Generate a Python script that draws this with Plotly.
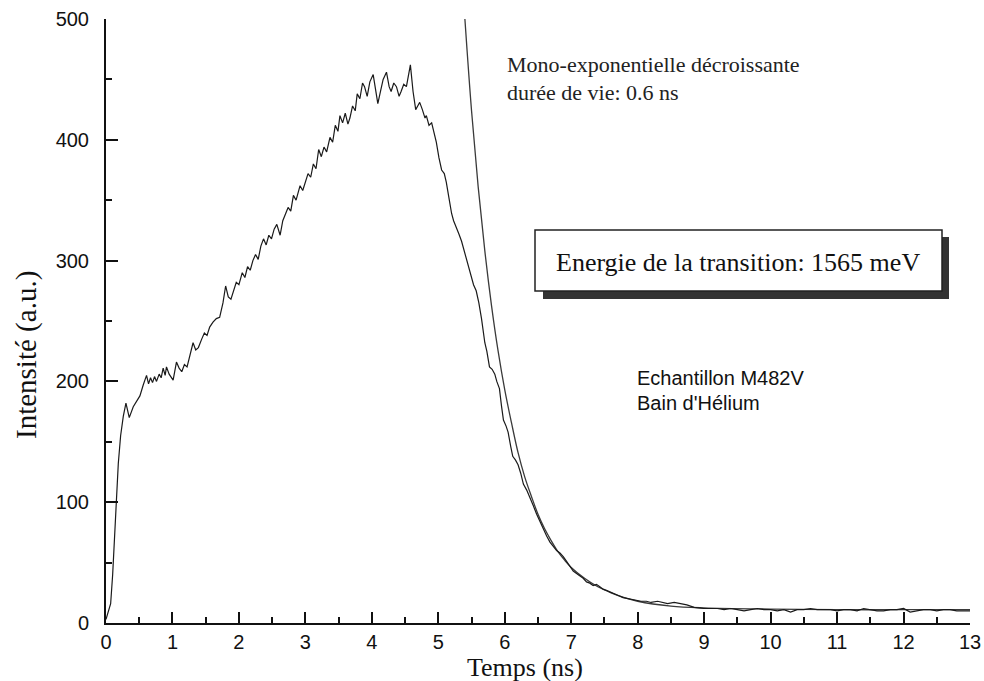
import plotly.graph_objects as go

t_data = [0.00, 0.03, 0.07, 0.10, 0.135, 0.16, 0.185, 0.22, 0.26, 0.30, 0.35, 0.41, 0.46, 0.51, 0.56, 0.61,
          0.64, 0.67, 0.70, 0.73, 0.76, 0.80, 0.83, 0.86, 0.89, 0.91, 0.95, 1.01, 1.06, 1.10, 1.14, 1.18,
          1.22, 1.26, 1.31, 1.35, 1.39, 1.44, 1.48, 1.52, 1.56, 1.61, 1.66, 1.71, 1.76, 1.80, 1.84, 1.88,
          1.92, 1.96, 2.00, 2.05, 2.09, 2.13, 2.17, 2.21, 2.25, 2.29, 2.33, 2.37, 2.41, 2.45, 2.49, 2.53,
          2.57, 2.62, 2.66, 2.70, 2.74, 2.78, 2.82, 2.86, 2.92, 2.96, 3.00, 3.04, 3.08, 3.12, 3.16, 3.20,
          3.24, 3.28, 3.32, 3.37, 3.41, 3.45, 3.49, 3.52, 3.56, 3.60, 3.64, 3.67, 3.71, 3.75, 3.78, 3.82,
          3.86, 3.89, 3.93, 3.97, 4.02, 4.06, 4.09, 4.13, 4.17, 4.22, 4.26, 4.29, 4.33, 4.37, 4.41, 4.44,
          4.48, 4.52, 4.55, 4.58, 4.62, 4.66, 4.69, 4.72, 4.76, 4.80, 4.82, 4.86, 4.90, 4.94, 4.97, 5.01,
          5.05, 5.09, 5.12, 5.16, 5.20, 5.23, 5.27, 5.31, 5.35, 5.38, 5.42, 5.46, 5.50, 5.53, 5.57, 5.61,
          5.65, 5.70, 5.73, 5.77, 5.81, 5.85, 5.88, 5.92, 5.95, 5.98, 6.02, 6.05, 6.09, 6.12, 6.16, 6.20,
          6.24, 6.28, 6.33, 6.38, 6.43, 6.48, 6.53, 6.58, 6.63, 6.68, 6.73, 6.78, 6.83, 6.88, 6.93, 6.98,
          7.03, 7.08, 7.13, 7.18, 7.23, 7.28, 7.33, 7.38, 7.43, 7.48, 7.53, 7.58, 7.63, 7.70, 7.78, 7.88,
          7.95, 8.05, 8.13, 8.20, 8.30, 8.39, 8.45, 8.55, 8.65, 8.74, 8.85, 8.99, 9.1, 9.2, 9.3, 9.4,
          9.5, 9.6, 9.7, 9.8, 9.9, 10.0, 10.1, 10.2, 10.3, 10.4, 10.5, 10.6, 10.7, 10.8, 10.9, 11.0,
          11.1, 11.2, 11.3, 11.4, 11.5, 11.6, 11.7, 11.8, 11.9, 12.0, 12.1, 12.2, 12.3, 12.4, 12.5, 12.6,
          12.7, 12.8, 12.9, 13.0]
i_data = [3, 8, 16, 40, 77, 105, 132, 155, 171, 182, 170, 179, 184, 188, 197, 205,
          198, 203, 199, 204, 200, 206, 203, 211, 205, 212, 206, 201, 216, 211, 208, 214,
          212, 220, 232, 226, 228, 235, 240, 238, 245, 249, 252, 253, 265, 279, 270, 268,
          275, 282, 280, 290, 286, 295, 292, 300, 305, 301, 312, 318, 313, 321, 318, 326,
          330, 321, 333, 339, 344, 341, 354, 350, 362, 358, 365, 372, 369, 380, 376, 392,
          386, 394, 390, 402, 398, 412, 407, 420, 414, 422, 413, 418, 428, 424, 438, 434,
          447, 444, 436, 448, 454, 442, 430, 440, 450, 456, 444, 440, 447, 444, 436, 440,
          446, 444, 452, 462, 440, 425, 428, 431, 425, 418, 420, 412, 414, 405, 398, 385,
          375, 372, 365, 352, 339, 333, 328, 322, 316, 310, 304, 295, 286, 280, 275, 265,
          252, 232, 225, 212, 210, 206, 200, 194, 180, 168, 163, 158, 146, 138, 135, 131,
          124, 115, 110, 104, 97, 90, 84, 77, 72, 67, 63, 60, 58, 55, 51, 47,
          43, 41, 39, 37, 34, 33, 31, 32, 30, 28, 27, 26, 25, 23, 21, 20,
          19, 18, 18, 17, 18, 17, 16, 17, 16, 15, 13, 12, 12, 12, 11, 12,
          11, 10, 11, 12, 11, 11, 10, 11, 9, 11, 11, 12, 11, 11, 11, 10,
          11, 11, 10, 12, 11, 10, 10, 11, 11, 12, 9, 10, 11, 11, 10, 11,
          11, 10, 10, 10]

# Mono-exponential fit curve (lifetime 0.6 ns)
t_fit = [5.40, 5.50, 5.60, 5.70, 5.80, 5.90, 6.00, 6.10, 6.20, 6.30, 6.40, 6.50, 6.60, 6.70, 6.80,
         6.90, 7.00, 7.20, 7.40, 7.60, 7.80, 8.00, 8.50, 9.00, 10.0, 11.0, 12.0, 13.0]
i_fit = [500, 424, 361, 308, 263, 225, 193, 166, 141, 121, 105, 90, 78, 68, 59,
         52, 46, 37, 30, 25, 21, 18, 14, 12.5, 11.5, 11, 11, 11]

x_ticks = list(range(0, 14))
y_ticks = [0, 100, 200, 300, 400, 500]

W, H = 984, 681
L, R, T, B = 106, 970, 19, 623


def px(x):
    return (x - L) / (R - L)


def py(y):
    return (B - y) / (B - T)


fig = go.Figure()
fig.add_trace(go.Scatter(x=t_fit, y=i_fit, mode="lines", line=dict(color="#3a3a3a", width=1.3, shape="spline"),
                         showlegend=False, hoverinfo="skip"))
fig.add_trace(go.Scatter(x=t_data, y=i_data, mode="lines", line=dict(color="#1a1a1a", width=1.2),
                         showlegend=False))

tickfont = dict(family="Liberation Sans, Arial", size=20, color="#111")
fig.update_xaxes(range=[0, 13], tickvals=x_ticks, ticktext=[str(v) for v in x_ticks],
                 ticks="inside", ticklen=11, tickwidth=2, tickcolor="#111",
                 minor=dict(dtick=0.5, tick0=0, ticks="inside", ticklen=6, tickwidth=1.5, tickcolor="#111"),
                 showline=True, linecolor="#111", linewidth=2, showgrid=False, zeroline=False,
                 tickfont=tickfont, ticklabelstandoff=0, automargin=False)
fig.update_yaxes(range=[0, 500], tickvals=y_ticks, ticktext=[str(v) for v in y_ticks],
                 ticks="inside", ticklen=12, tickwidth=2, tickcolor="#111",
                 minor=dict(dtick=50, tick0=0, ticks="inside", ticklen=6, tickwidth=1.5, tickcolor="#111"),
                 showline=True, linecolor="#111", linewidth=2, showgrid=False, zeroline=False,
                 tickfont=tickfont, ticklabelstandoff=11, automargin=False)

serif = "Liberation Serif, Times New Roman"
sans = "Liberation Sans, Arial"

shapes = [
    dict(type="rect", xref="paper", yref="paper", x0=px(543), x1=px(949), y0=py(299), y1=py(237),
         fillcolor="#333333", line=dict(width=0), layer="above"),
    dict(type="rect", xref="paper", yref="paper", x0=px(535), x1=px(942), y0=py(291), y1=py(230),
         fillcolor="white", line=dict(color="#222", width=1.5), layer="above"),
]

annotations = [
    dict(text="Temps (ns)", x=px(525), y=py(667), xref="paper", yref="paper", showarrow=False,
         font=dict(family=serif, size=26, color="#111"), xanchor="center", yanchor="middle"),
    dict(text="Intensité (a.u.)", x=px(26), y=py(355), xref="paper", yref="paper", showarrow=False,
         textangle=-90, font=dict(family=serif, size=29, color="#111"), xanchor="center", yanchor="middle"),
    dict(text="Mono-exponentielle décroissante", x=px(505), y=py(65), xref="paper", yref="paper",
         showarrow=False, font=dict(family=serif, size=22, color="#222"), xanchor="left", yanchor="middle"),
    dict(text="durée de vie: 0.6 ns", x=px(505), y=py(93), xref="paper", yref="paper",
         showarrow=False, font=dict(family=serif, size=22, color="#222"), xanchor="left", yanchor="middle"),
    dict(text="Energie de la transition: 1565 meV", x=px(738), y=py(262), xref="paper", yref="paper",
         showarrow=False, font=dict(family=serif, size=26, color="#111"), xanchor="center", yanchor="middle"),
    dict(text="Echantillon M482V", x=px(635), y=py(378), xref="paper", yref="paper",
         showarrow=False, font=dict(family=sans, size=20, color="#111"), xanchor="left", yanchor="middle"),
    dict(text="Bain d'Hélium", x=px(635), y=py(403), xref="paper", yref="paper",
         showarrow=False, font=dict(family=sans, size=20, color="#111"), xanchor="left", yanchor="middle"),
]

fig.update_layout(width=W, height=H, margin=dict(l=L, r=W - R, t=T, b=H - B),
                  paper_bgcolor="white", plot_bgcolor="white", shapes=shapes, annotations=annotations,
                  showlegend=False)

fig.write_html("out.html", config={"displayModeBar": False},
               post_script="document.body.style.margin='0';document.body.style.overflow='hidden';")
